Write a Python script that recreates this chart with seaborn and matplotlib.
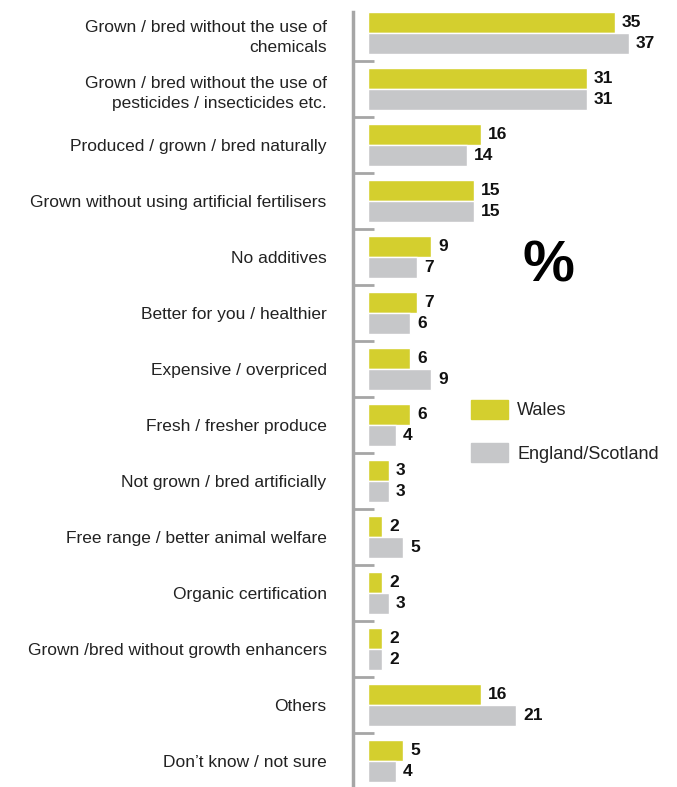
import pandas as pd
import numpy as np
import matplotlib.pyplot as plt
import seaborn as sns

# ---------------------------------------------------------
# DATA
# ---------------------------------------------------------

reasons = [
    "Grown / bred without the use of\nchemicals",
    "Grown / bred without the use of\npesticides / insecticides etc.",
    "Produced / grown / bred naturally",
    "Grown without using artificial fertilisers",
    "No additives",
    "Better for you / healthier",
    "Expensive / overpriced",
    "Fresh / fresher produce",
    "Not grown / bred artificially",
    "Free range / better animal welfare",
    "Organic certification",
    "Grown /bred without growth enhancers",
    "Others",
    "Don\u2019t know / not sure",
]
wales = [35, 31, 16, 15, 9, 7, 6, 6, 3, 2, 2, 2, 16, 5]
eng_scot = [37, 31, 14, 15, 7, 6, 9, 4, 3, 5, 3, 2, 21, 4]
regions = ["Wales", "England/Scotland"]
colors = ["#d4cf2e", "#c6c7c9"]

# ---------------------------------------------------------
# PLOT
# ---------------------------------------------------------

df = pd.DataFrame({"Reason": reasons, "Wales": wales, "England/Scotland": eng_scot})
long_df = df.melt(id_vars="Reason", var_name="Region", value_name="Percent")

sns.set_style("white")
plt.rcParams["font.family"] = ["Liberation Sans", "DejaVu Sans"]

fig = plt.figure(figsize=(6.77, 7.87), dpi=100)
ax = fig.add_axes([353 / 677, 0, 1 - 353 / 677, (787 - 12) / 787])

sns.barplot(
    data=long_df, y="Reason", x="Percent", hue="Region",
    hue_order=regions, palette=colors, orient="h",
    width=0.75, saturation=1, ax=ax, order=reasons,
)

for cont in ax.containers:
    ax.bar_label(cont, padding=5, fontsize=12.5, fontweight="bold", color="#111111")

# axis limits: zero sits ~15px right of the axis line
ax.set_xlim(-2.1, 43.8)
ax.set_ylim(13.46, -0.375)

ax.set_xlabel("")
ax.set_ylabel("")
ax.set_xticks([])

ax.set_yticks(np.arange(len(reasons)))
ax.set_yticklabels(reasons, fontsize=12.5, color="#222222", linespacing=1.45)
ax.set_yticks(np.arange(len(reasons) - 1) + 0.5, minor=True)
ax.tick_params(axis="y", which="major", length=0, pad=19)
ax.tick_params(axis="y", which="minor", length=15, width=2, direction="in",
               color="#a6a6a6", left=True)

for side in ["top", "right", "bottom"]:
    ax.spines[side].set_visible(False)
ax.spines["left"].set_color("#a6a6a6")
ax.spines["left"].set_linewidth(2.5)

ax.legend_.remove()
handles = [plt.Rectangle((0, 0), 1, 1, color=c) for c in colors]
fig.legend(
    handles, regions, loc="upper left",
    bbox_to_anchor=(471 / 677, 1 - 400 / 787), frameon=False,
    fontsize=13, handlelength=2.05, handleheight=1.22,
    labelspacing=1.33, handletextpad=0.5, borderpad=0, borderaxespad=0,
    labelcolor="#222222",
)

fig.text(548 / 677, 1 - 267 / 787, "%", fontsize=42, fontweight="bold",
         ha="center", va="center", color="#000000")

fig.savefig("out.png", dpi=100)
